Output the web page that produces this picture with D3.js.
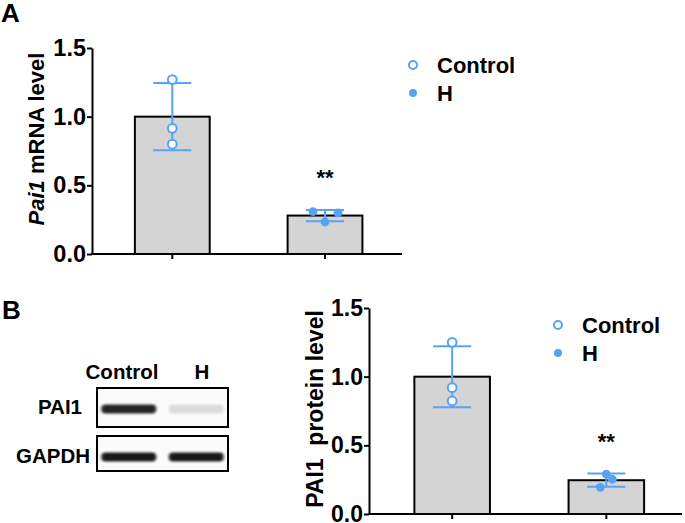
<!DOCTYPE html>
<html><head><meta charset="utf-8">
<script src="https://cdn.jsdelivr.net/npm/d3@7"></script>
<style>
body{margin:0;background:#fff}
svg{display:block}
text{font-family:"Liberation Sans",Arial,sans-serif;font-weight:bold;fill:#000;white-space:pre}
</style>
</head><body><svg id="c" width="685" height="523"></svg>
<script>
// ---- data ----
const groups = ["Control", "H"];
const mrnaMean = [1.0, 0.28];
const mrnaSD = [0.245, 0.041];
const mrnaPoints = [[1.27, 0.915, 0.80], [0.308, 0.233, 0.30]];
const protMean = [1.0, 0.246];
const protSD = [0.222, 0.048];
const protPoints = [[1.25, 0.92, 0.823], [0.29, 0.253, 0.194]];
const yTicks = [0, 0.5, 1.0, 1.5];
const sigLabels = ["", "**"];
const blotLanes = ["Control", "H"];
const blotRows = ["PAI1", "GAPDH"];
const blotIntensity = [[0.9, 0.13], [0.95, 0.95]];

const BLUE = "#58a2f5";
const svg = d3.select("#c");

const defs = svg.append("defs");
defs.append("filter").attr("id", "blur").attr("x", "-30%").attr("y", "-100%").attr("width", "160%").attr("height", "300%")
  .append("feGaussianBlur").attr("stdDeviation", "1.6 1.3");

function panel(cfg) {
  const g = svg.append("g");
  const y = d3.scaleLinear().domain([0, 1.5]).range([cfg.y0, cfg.y1]);
  const x = d3.scaleBand().domain(groups).range([cfg.x0, cfg.x1])
    .paddingInner(0.51).paddingOuter(0.27).align(cfg.align);
  const bw = x.bandwidth();
  const cx = d => x(d) + bw / 2;

  // bars
  g.selectAll("rect.bar").data(groups).join("rect")
    .attr("x", d => x(d)).attr("y", (d, i) => y(cfg.mean[i]))
    .attr("width", bw).attr("height", (d, i) => y(0) - y(cfg.mean[i]))
    .attr("fill", "#d4d4d4").attr("stroke", "#000").attr("stroke-width", 2);

  // axes
  const ya = g.append("g").attr("transform", `translate(${cfg.x0},0)`)
    .call(d3.axisLeft(y).tickValues(yTicks).tickFormat(d3.format(".1f")).tickSize(5).tickSizeOuter(0).tickPadding(1));
  const xa = g.append("g").attr("transform", `translate(0,${cfg.y0})`)
    .call(d3.axisBottom(x).tickSize(5).tickSizeOuter(0).tickFormat(""));
  [ya, xa].forEach(a => {
    a.select(".domain").attr("stroke", "#000").attr("stroke-width", 2);
    a.selectAll(".tick line").attr("stroke", "#000").attr("stroke-width", 2);
  });
  ya.selectAll(".tick text").style("font-size", cfg.tickFont + "px").style("font-family", '"Liberation Sans",Arial,sans-serif').style("font-weight", "bold").attr("fill", "#000");
  xa.select(".domain").attr("d", `M${cfg.x0 - 1},0H${cfg.x1}`);

  // error bars
  groups.forEach((gname, i) => {
    const c = cx(gname);
    const lo = y(cfg.mean[i] - cfg.sd[i]), hi = y(cfg.mean[i] + cfg.sd[i]);
    const eb = g.append("g").attr("stroke", BLUE).attr("stroke-width", 2);
    eb.append("line").attr("x1", c).attr("x2", c).attr("y1", lo).attr("y2", hi);
    eb.append("line").attr("x1", c - 19).attr("x2", c + 19).attr("y1", lo).attr("y2", lo);
    eb.append("line").attr("x1", c - 19).attr("x2", c + 19).attr("y1", hi).attr("y2", hi);
  });

  // points
  groups.forEach((gname, i) => {
    g.selectAll(null).data(cfg.points[i]).join("circle")
      .attr("cx", (d, j) => cx(gname) + cfg.jitter[i][j])
      .attr("cy", d => y(d)).attr("r", 4.4)
      .attr("fill", i === 0 ? "#fff" : BLUE)
      .attr("stroke", BLUE).attr("stroke-width", i === 0 ? 2 : 0);
  });

  // significance
  g.selectAll("text.sig").data(groups).join("text").attr("class", "sig")
    .attr("x", d => cx(d)).attr("y", (d, i) => y(cfg.mean[i] + cfg.sd[i]) + cfg.sigDy)
    .attr("text-anchor", "middle").style("font-size", "22px")
    .text((d, i) => sigLabels[i]);

  // y title
  const t = g.append("text")
    .attr("transform", `translate(${cfg.titleX},${cfg.titleY}) rotate(-90)`)
    .attr("text-anchor", "middle").style("font-size", cfg.titleFont + "px");
  cfg.title.forEach(p => t.append("tspan").style("font-style", p[1] ? "italic" : "normal").text(p[0]));

  // legend
  const lg = g.append("g");
  groups.forEach((gname, i) => {
    const ly = cfg.legY + i * 28;
    lg.append("circle").attr("cx", cfg.legX).attr("cy", ly).attr("r", 4)
      .attr("fill", i === 0 ? "#fff" : BLUE).attr("stroke", BLUE).attr("stroke-width", i === 0 ? 2 : 0);
    lg.append("text").attr("x", cfg.legX + 24).attr("y", ly + 8).style("font-size", "22px").text(gname);
  });
}

panel({x0: 92, x1: 402, y0: 254, y1: 48, align: 0.52, mean: mrnaMean, sd: mrnaSD, points: mrnaPoints,
  jitter: [[0, 0, 0], [-12, 0, 13]], sigDy: -25, tickFont: 23.5,
  title: [["Pai1", true], [" mRNA level", false]], titleX: 44, titleY: 139, titleFont: 22, legX: 413, legY: 65});

panel({x0: 369, x1: 682, y0: 514, y1: 308, align: 0.545, mean: protMean, sd: protSD, points: protPoints,
  jitter: [[0, 0, 0], [0, 6, -6]], sigDy: -25, tickFont: 23,
  title: [["PAI1  protein level", false]], titleX: 323, titleY: 409, titleFont: 23, legX: 558, legY: 325});

// panel letters
svg.append("text").attr("x", 1).attr("y", 22).style("font-size", "26px").text("A");
svg.append("text").attr("x", 2).attr("y", 319).style("font-size", "26px").text("B");

// western blot
const bx = d3.scaleBand().domain(blotLanes).range([97, 228]).paddingInner(0.1).paddingOuter(0.02);
const boxes = [{y: 388, h: 39, c: 409}, {y: 436, h: 35, c: 457}];
const blot = svg.append("g");
blot.selectAll("text.lane").data(blotLanes).join("text")
  .attr("x", (d, i) => i === 0 ? 122 : 202).attr("y", 379).attr("text-anchor", "middle")
  .style("font-size", "20.5px").text(d => d);
blotRows.forEach((row, r) => {
  const b = boxes[r];
  blot.append("rect").attr("x", 97).attr("y", b.y).attr("width", 131).attr("height", b.h)
    .attr("fill", "#fbfbfb").attr("stroke", "#000").attr("stroke-width", 2);
  blot.append("text").attr("x", r === 0 ? 82 : 90).attr("y", r === 0 ? 414 : 463)
    .attr("text-anchor", "end").style("font-size", "20.5px").text(row);
  blotLanes.forEach((lane, l) => {
    const v = blotIntensity[r][l];
    blot.append("rect").attr("x", bx(lane) + 3).attr("y", b.c - 4.5)
      .attr("width", bx.bandwidth() - 6).attr("height", 9).attr("rx", 4)
      .attr("fill", "#111").attr("opacity", v).attr("filter", "url(#blur)");
  });
});
</script></body></html>
